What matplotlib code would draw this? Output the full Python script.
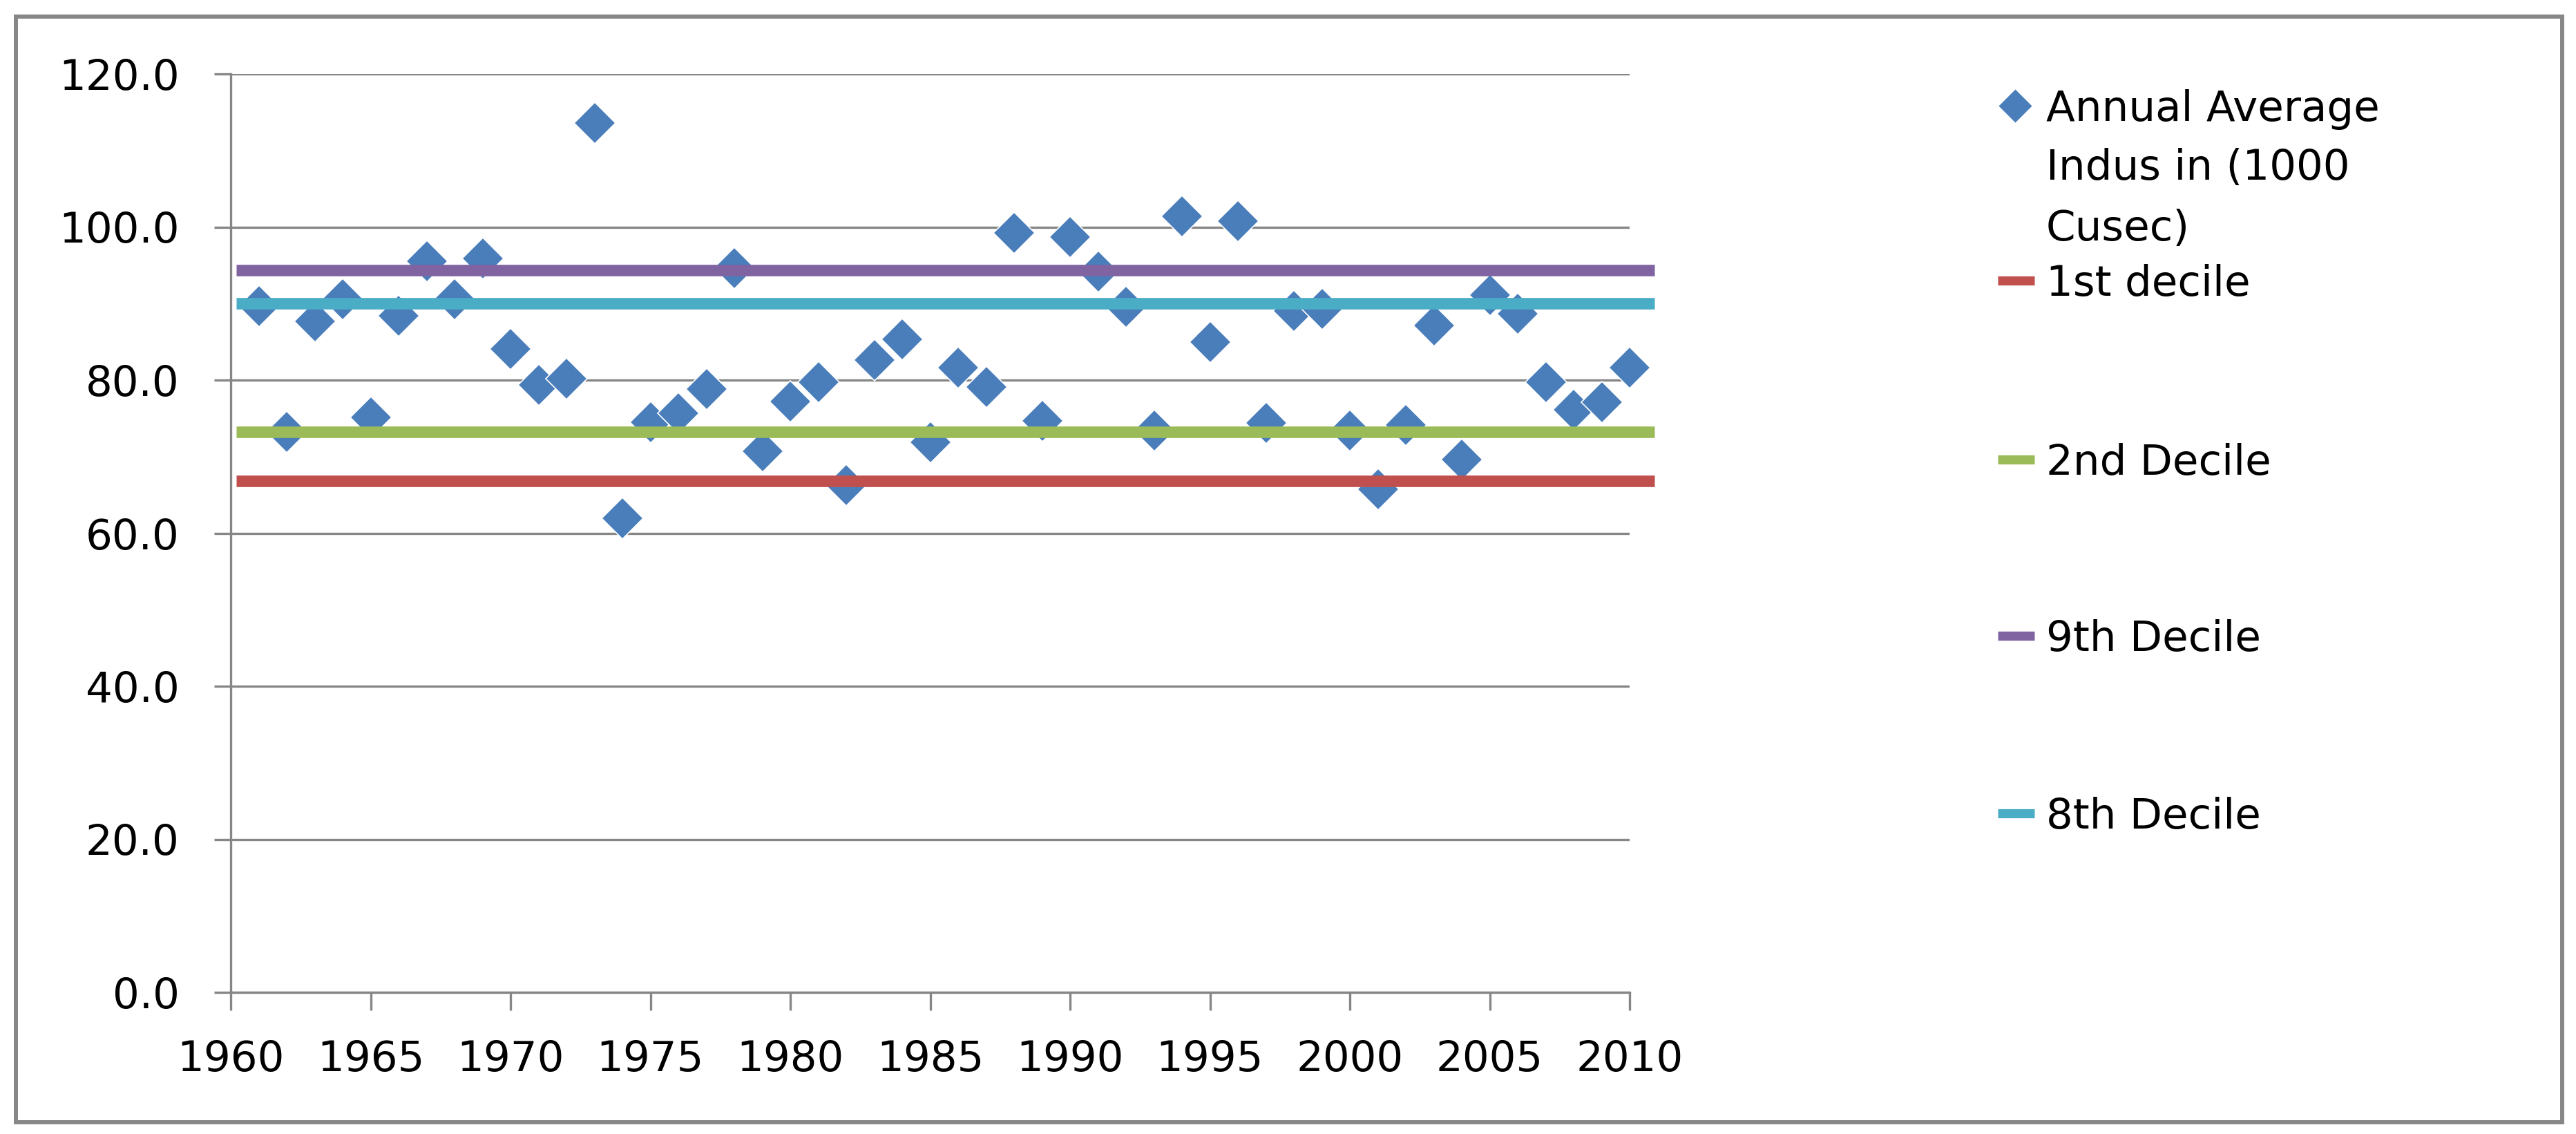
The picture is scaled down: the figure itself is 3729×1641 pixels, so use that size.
import matplotlib
matplotlib.use("Agg")
import matplotlib.pyplot as plt
from matplotlib.lines import Line2D
from matplotlib.patches import Rectangle

# annual average Indus flow (1000 cusec)
years = list(range(1961, 2011))
flow = [89.7, 73.2, 87.7, 90.6, 75.1, 88.4, 95.5, 90.6, 95.9, 84.1,
        79.4, 80.2, 113.6, 61.9, 74.5, 75.7, 78.8, 94.6, 70.7, 77.2,
        79.7, 66.3, 82.6, 85.3, 71.9, 81.6, 79.1, 99.2, 74.7, 98.7,
        94.2, 89.6, 73.4, 101.4, 85.0, 100.8, 74.4, 89.0, 89.3, 73.4,
        65.7, 74.1, 87.1, 69.6, 91.1, 88.7, 79.7, 76.1, 77.1, 81.6]

decile_names = ["1st decile", "2nd Decile", "9th Decile", "8th Decile"]
decile_values = [66.8, 73.2, 94.4, 90.0]
decile_colors = ["#C0504D", "#9BBB59", "#8064A2", "#4BACC6"]

series_label = ["Annual Average", "Indus in (1000", "Cusec)"]
yticks = [0, 20, 40, 60, 80, 100, 120]
xticks = [1960, 1965, 1970, 1975, 1980, 1985, 1990, 1995, 2000, 2005, 2010]

W, H = 3729, 1641
grey = "#868686"
blue = "#4A7EBB"
fs = 44

plt.rcParams['font.family'] = ['DejaVu Sans']

fig = plt.figure(figsize=(W / 100, H / 100), dpi=100)
ax = fig.add_axes([334 / W, 1 - 1436 / H, (2359 - 334) / W, (1436 - 107) / H])

ax.plot(years, flow, linestyle='none', marker='D', ms=31, color=blue,
        mec='white', mew=1.2, zorder=3, clip_on=False)

for v, c in zip(decile_values, decile_colors):
    ax.axhline(v, xmin=0.004, xmax=1.018, color=c, lw=12,
               solid_capstyle='butt', clip_on=False, zorder=4)

ax.set_xlim(1960, 2010)
ax.set_ylim(0, 120)
ax.set_xticks(xticks)
ax.set_yticks(yticks)
ax.set_yticklabels(["%.1f" % t for t in yticks])
ax.yaxis.grid(True, color=grey, lw=2.4)
ax.set_axisbelow(True)
for s in ['top', 'right']:
    ax.spines[s].set_visible(False)
for s in ['left', 'bottom']:
    ax.spines[s].set_color(grey)
    ax.spines[s].set_linewidth(2.4)
ax.tick_params(axis='y', length=17.5, width=2.4, color=grey, pad=36,
               labelsize=fs)
ax.tick_params(axis='x', length=19, width=2.4, color=grey, pad=30,
               labelsize=fs)

# legend, laid out by hand to keep Excel's uneven spacing
def fx(px):
    return px / W

def fy(px):
    return 1 - px / H

text_x = fx(2962)
fig.add_artist(Line2D([fx(2917)], [fy(153)], marker='D', ms=25,
                      color=blue, mec='white', mew=1, linestyle='none'))
for base, line in zip([175, 260, 348], series_label):
    fig.text(text_x, fy(base), line, fontsize=fs, va='baseline', ha='left')

legend_rows = [406, 665, 920, 1177]
for row, name, c in zip(legend_rows, decile_names, decile_colors):
    fig.add_artist(Line2D([fx(2892), fx(2945)], [fy(row), fy(row)],
                          color=c, lw=9.5, solid_capstyle='butt'))
    fig.text(text_x, fy(row + 22), name, fontsize=fs,
             va='baseline', ha='left')

# chart frame
fig.add_artist(Rectangle((23 / W, 1 - 1624 / H), (3709 - 23) / W,
                         (1624 - 24) / H, transform=fig.transFigure,
                         fill=False, edgecolor="#878787", lw=4.3))

fig.savefig("out.png", dpi=100, facecolor='white')
